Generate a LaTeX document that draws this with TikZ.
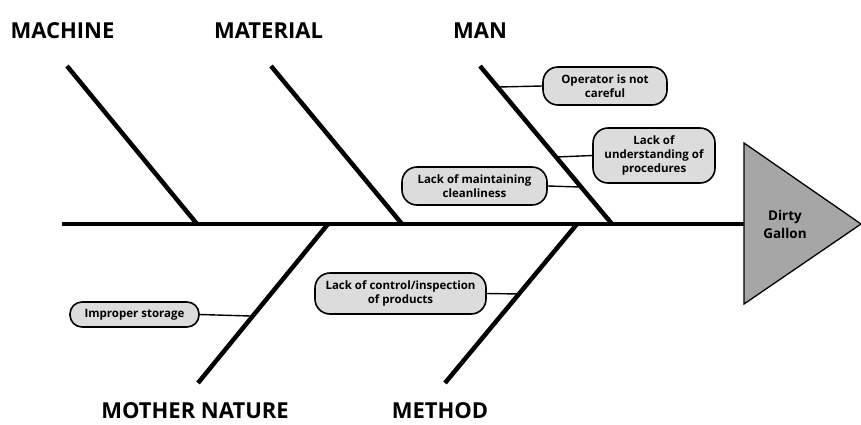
\documentclass[tikz,border=0pt]{standalone}
\usepackage{fontspec}
\setmainfont{Open Sans}
\usetikzlibrary{calc}
\definecolor{boxgray}{HTML}{DCDCDC}
\definecolor{headgray}{HTML}{A6A6A6}
\tikzset{
  bone/.style={line width=4.5pt},
  twig/.style={line width=1.4pt},
  cause/.style={draw, line width=1.6pt, fill=boxgray, rounded corners=15pt, align=center,
    font=\fontsize{11.5}{14}\selectfont\bfseries, inner sep=2pt},
  head/.style={font=\fontsize{22}{24}\selectfont\bfseries, anchor=center, inner sep=0pt, text depth=0pt},
}
\begin{document}
\begin{tikzpicture}[x=1pt,y=-1pt]
\useasboundingbox (0,0) rectangle (861,424);
% head triangle
\coordinate (triT) at (744,143);
\coordinate (triB) at (744,304);
\coordinate (triA) at (861,224);
\coordinate (triL) at (744,224);
\draw[line width=1.3pt, fill=headgray, line join=miter] (triT) -- (triA) -- (triB) -- cycle;
\node[font=\fontsize{13.5}{18}\selectfont\bfseries, align=center] (effect) at (785,224) {Dirty\\Gallon};
% spine
\coordinate (spineL) at (62,224);
\draw[bone] (spineL) -- (triL);
% top bones
\coordinate (macT) at (67,66);   \coordinate (macB) at (197,224);
\coordinate (matT) at (271,66);  \coordinate (matB) at (402,224);
\coordinate (manT) at (480,66);  \coordinate (manB) at (612,224);
\draw[bone] (macT) -- (macB);
\draw[bone] (matT) -- (matB);
\draw[bone] (manT) -- (manB);
% bottom bones
\coordinate (mnT) at (328,224); \coordinate (mnB) at (198,383);
\coordinate (meT) at (577,224); \coordinate (meB) at (445,383);
\draw[bone] (mnT) -- (mnB);
\draw[bone] (meT) -- (meB);
% headings
\node[head] (hMachine) at (62.5,31) {MACHINE};
\node[head] (hMaterial) at (268.5,31) {MATERIAL};
\node[head] (hMan) at (480,31) {MAN};
\node[head] (hMother) at (195,411) {MOTHER NATURE};
\node[head] (hMethod) at (440,411) {METHOD};
% causes
\node[cause, minimum width=124pt, minimum height=38pt] (c1) at (605,86) {Operator is not\\careful};
\node[cause, minimum width=122pt, minimum height=55pt] (c2) at (654,155.5) {Lack of\\understanding of\\procedures};
\node[cause, minimum width=145pt, minimum height=38pt] (c3) at (474.5,186) {Lack of maintaining\\cleanliness};
\node[cause, rounded corners=12pt, minimum width=129pt, minimum height=25pt] (c4) at (134.5,314.5) {Improper storage};
\node[cause, minimum width=171pt, minimum height=41pt] (c5) at (400.5,293.5) {Lack of control/inspection\\of products};
% connection points on bones
\coordinate (p1) at ($(manT)!0.133!(manB)$);
\coordinate (p2) at ($(manT)!0.576!(manB)$);
\coordinate (p3) at ($(manT)!0.766!(manB)$);
\coordinate (p4) at ($(mnT)!0.579!(mnB)$);
\coordinate (p5) at ($(meT)!0.44!(meB)$);
\draw[twig] (c1.west) -- (p1);
\draw[twig] (c2.west) -- (p2);
\draw[twig] (c3.east) -- (p3);
\draw[twig] (c4.east) -- (p4);
\draw[twig] (c5.east) -- (p5);
\end{tikzpicture}
\end{document}
